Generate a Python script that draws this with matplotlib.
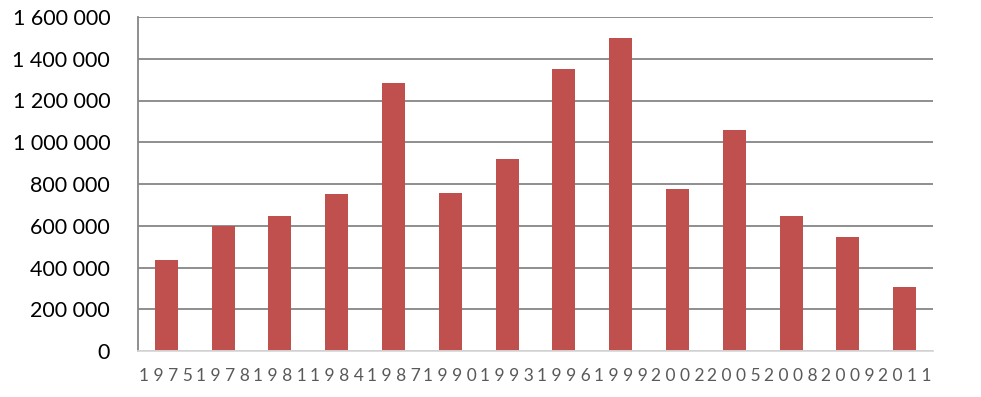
import matplotlib.pyplot as plt
from matplotlib.ticker import FuncFormatter

years = [1975, 1978, 1981, 1984, 1987, 1990, 1993, 1996, 1999, 2002, 2005, 2008, 2009, 2011]
values = [435000, 600000, 648000, 750000, 1285000, 758000, 918000, 1350000, 1500000,
          776000, 1058000, 648000, 546000, 308000]
y_ticks = [0, 200000, 400000, 600000, 800000, 1000000, 1200000, 1400000, 1600000]

plt.rcParams['font.family'] = ['Lato', 'DejaVu Sans']

fig = plt.figure(figsize=(9.81, 3.97), dpi=100)
ax = fig.add_axes([138/981, 46/397, (933-138)/981, (351-17)/397])

x = list(range(len(years)))
ax.bar(x, values, width=0.405, color="#C0504D", zorder=2)

ax.set_xlim(-0.5, len(years)-0.5)
ax.set_ylim(0, 1600000)
ax.set_yticks(y_ticks)
ax.yaxis.set_major_formatter(FuncFormatter(lambda v, p: f"{v:,.0f}".replace(",", " ")))
ax.set_xticks(x)
ax.set_xticklabels([" ".join(str(y)) for y in years], fontsize=12.5, color="#595959")

ax.tick_params(axis="y", length=0, pad=20, labelsize=15.5, labelcolor="black")
ax.tick_params(axis="x", length=0, pad=12)

ax.set_axisbelow(True)
ax.yaxis.grid(True, color="#868686", linewidth=1.3)
for s in ["top", "right"]:
    ax.spines[s].set_visible(False)
ax.spines["left"].set_color("#868686")
ax.spines["left"].set_linewidth(1.3)
ax.spines["bottom"].set_color("#d9d9d9")
ax.spines["bottom"].set_linewidth(1.3)
ax.spines["bottom"].set_zorder(3)

fig.savefig("out.png", dpi=100)
